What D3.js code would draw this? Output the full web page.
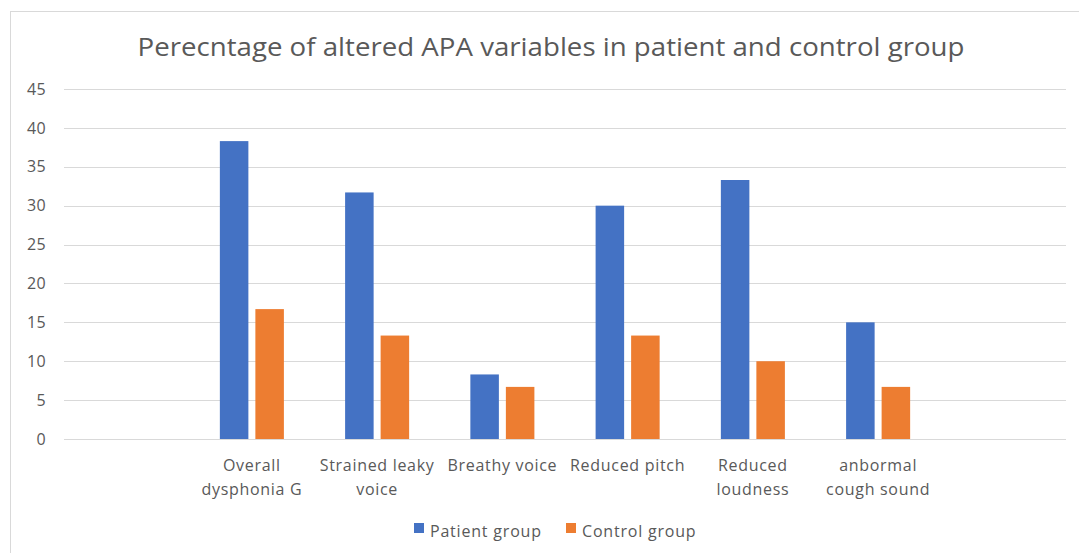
<!DOCTYPE html>
<html>
<head>
<meta charset="utf-8">
<script src="https://cdn.jsdelivr.net/npm/d3@7"></script>
<style>
  html, body { margin: 0; padding: 0; background: #fff; }
  svg { display: block; }
  text { font-family: "Open Sans", "Noto Sans", sans-serif; fill: #595959; }
</style>
</head>
<body>
<svg id="chart" width="1079" height="553"></svg>
<script>
// ---- data ----
const title = "Perecntage of altered APA variables in patient and control group";
const categories = ["", "Overall\ndysphonia G", "Strained leaky\nvoice", "Breathy voice", "Reduced pitch", "Reduced\nloudness", "anbormal\ncough sound", ""];
const seriesNames = ["Patient group", "Control group"];
const patientValues = [null, 38.3, 31.7, 8.3, 30, 33.3, 15, null];
const controlValues = [null, 16.7, 13.3, 6.7, 13.3, 10, 6.7, null];
const yTicks = [0, 5, 10, 15, 20, 25, 30, 35, 40, 45];
const colors = ["#4472C4", "#ED7D31"];

const svg = d3.select("#chart");
const W = 1079, H = 553;
const plot = { left: 64, right: 1066, top: 89, bottom: 439 };

// chart border
svg.append("rect").attr("x", 10.5).attr("y", 11.5).attr("width", W + 20).attr("height", H + 20)
  .attr("fill", "none").attr("stroke", "#D9D9D9").attr("stroke-width", 1);

// title
svg.append("text").attr("x", 551).attr("y", 56).attr("text-anchor", "middle")
  .attr("font-size", 25).attr("textLength", 827).attr("lengthAdjust", "spacingAndGlyphs")
  .text(title);

const x0 = d3.scaleBand().domain(d3.range(categories.length)).range([plot.left, plot.right]).padding(0);
const x1 = d3.scaleBand().domain(seriesNames).range([0, x0.bandwidth()]).paddingInner(0.197).paddingOuter(0.862);
const y = d3.scaleLinear().domain([0, 45]).range([plot.bottom, plot.top]);

// gridlines
svg.append("g").selectAll("line").data(yTicks).join("line")
  .attr("x1", plot.left).attr("x2", plot.right)
  .attr("y1", d => Math.round(y(d)) + 0.5).attr("y2", d => Math.round(y(d)) + 0.5)
  .attr("stroke", "#D9D9D9").attr("stroke-width", 1);

// y axis labels
const yAxis = d3.axisLeft(y).tickValues(yTicks).tickSize(0).tickPadding(0);
const ya = svg.append("g").attr("transform", `translate(${plot.left - 18},0)`).call(yAxis);
ya.select(".domain").remove();
ya.selectAll("text").attr("font-size", 16).attr("fill", "#595959")
  .style("font-family", "'Open Sans', sans-serif").attr("letter-spacing", 0.3);

// bars
const seriesData = [patientValues, controlValues];
seriesData.forEach((vals, si) => {
  svg.append("g").selectAll("rect")
    .data(vals.map((v, i) => ({ v, i })).filter(d => d.v != null))
    .join("rect")
    .attr("x", d => x0(d.i) + x1(seriesNames[si]))
    .attr("width", x1.bandwidth())
    .attr("y", d => y(d.v))
    .attr("height", d => y(0) - y(d.v))
    .attr("fill", colors[si]);
});

// category labels
const cg = svg.append("g");
categories.forEach((c, i) => {
  if (!c) return;
  const lines = c.split("\n");
  const t = cg.append("text").attr("text-anchor", "middle").attr("font-size", 16)
    .attr("letter-spacing", 0.7)
    .attr("x", x0(i) + x0.bandwidth() / 2).attr("y", 471);
  lines.forEach((ln, k) => {
    t.append("tspan").attr("x", x0(i) + x0.bandwidth() / 2).attr("dy", k === 0 ? 0 : 24).text(ln);
  });
});

// legend
const legendX = [414, 566];
seriesNames.forEach((s, i) => {
  svg.append("rect").attr("x", legendX[i]).attr("y", 523).attr("width", 10).attr("height", 10).attr("fill", colors[i]);
  svg.append("text").attr("x", legendX[i] + 16).attr("y", 537).attr("font-size", 16)
    .attr("letter-spacing", 0.8).text(s);
});
</script>
</body>
</html>
